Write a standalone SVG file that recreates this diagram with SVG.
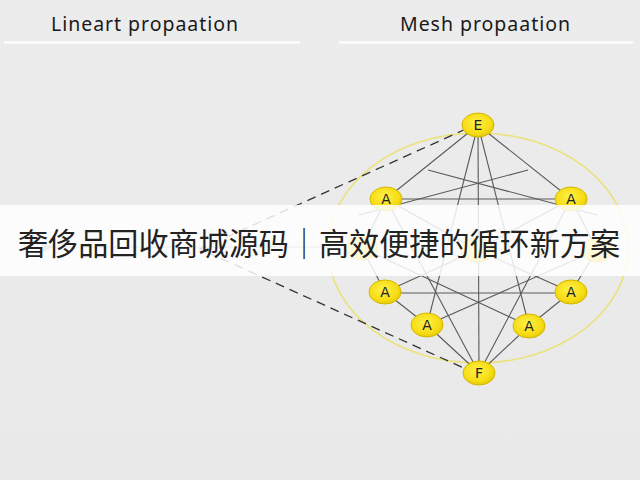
<svg xmlns="http://www.w3.org/2000/svg" width="640" height="480" viewBox="0 0 640 480">
<defs>
<linearGradient id="bg" x1="0" y1="0" x2="0" y2="1">
<stop offset="0" stop-color="#ececec"/>
<stop offset="1" stop-color="#e9e9e9"/>
</linearGradient>
<radialGradient id="ng" cx="0.45" cy="0.4" r="0.65">
<stop offset="0" stop-color="#fff04a"/>
<stop offset="0.7" stop-color="#f6dc12"/>
<stop offset="1" stop-color="#e2c400"/>
</radialGradient>
<marker id="arr" viewBox="0 0 10 10" refX="1" refY="5" markerWidth="9" markerHeight="9" orient="auto-start-reverse">
<path d="M10,0 L0,5 L10,10 z" fill="#888"/>
</marker>
<style>
.hdr{font-family:"Noto Sans","Open Sans","Liberation Sans",sans-serif;font-size:19.5px;fill:#1a1a1a}
.rule{stroke:#ffffff;stroke-width:2}
.edge{stroke:#5a5a5a;stroke-width:1.1;fill:none}
.dash{stroke:#333;stroke-width:1.3;stroke-dasharray:9 6;fill:none}
.node{fill:url(#ng);stroke:#d4b600;stroke-width:1}
.lbl{font-family:"DejaVu Sans","Liberation Sans",sans-serif;font-size:14px;fill:#222;text-anchor:middle}
</style>
</defs>
<rect width="640" height="480" fill="url(#bg)"/>

<text class="hdr" x="51" y="31" textLength="187">Lineart propaation</text>
<line class="rule" x1="4" y1="42.5" x2="300" y2="42.5"/>
<text class="hdr" x="400" y="31" textLength="170">Mesh propaation</text>
<line class="rule" x1="339" y1="42.5" x2="633" y2="42.5"/>

<ellipse cx="478" cy="248" rx="150" ry="115" fill="none" stroke="#ebe27c" stroke-width="1.6"/>

<g id="connectors">
<line x1="330" y1="247" x2="52" y2="247" stroke="#888" stroke-width="1.2" marker-end="url(#arr)"/>
<polyline class="dash" points="466,129 200,249 466,369"/>
<line class="edge" x1="478" y1="125" x2="386" y2="199"/>
<line class="edge" x1="478" y1="125" x2="571" y2="199"/>
<line class="edge" x1="478" y1="125" x2="479" y2="373"/>
<line class="edge" x1="478" y1="125" x2="427" y2="325"/>
<line class="edge" x1="478" y1="125" x2="529" y2="326"/>
<line class="edge" x1="386" y1="199" x2="571" y2="199"/>
<line class="edge" x1="385" y1="293" x2="571" y2="293"/>
<line class="edge" x1="386" y1="199" x2="362" y2="248"/>
<line class="edge" x1="362" y1="248" x2="385" y2="292"/>
<line class="edge" x1="571" y1="199" x2="597" y2="250"/>
<line class="edge" x1="597" y1="250" x2="571" y2="292"/>
<line class="edge" x1="385" y1="292" x2="427" y2="325"/>
<line class="edge" x1="427" y1="325" x2="479" y2="373"/>
<line class="edge" x1="571" y1="292" x2="529" y2="326"/>
<line class="edge" x1="529" y1="326" x2="479" y2="373"/>
<line class="edge" x1="479" y1="373" x2="386" y2="199"/>
<line class="edge" x1="479" y1="373" x2="571" y2="199"/>
<line class="edge" x1="428" y1="170" x2="597" y2="215"/>
<line class="edge" x1="528" y1="170" x2="359" y2="215"/>
<line class="edge" x1="362" y1="248" x2="529" y2="326"/>
<line class="edge" x1="597" y1="250" x2="427" y2="325"/>
<line class="edge" x1="386" y1="199" x2="477" y2="250"/>
<line class="edge" x1="571" y1="199" x2="477" y2="250"/>
<line class="edge" x1="477" y1="250" x2="385" y2="292"/>
<line class="edge" x1="477" y1="250" x2="571" y2="292"/>
</g>

<g id="node-top"><ellipse class="node" cx="478" cy="125" rx="16" ry="12"/><text class="lbl" x="478" y="130">E</text></g>
<g id="node-a1"><ellipse class="node" cx="386" cy="199" rx="16" ry="12"/><text class="lbl" x="386" y="204">A</text></g>
<g id="node-a2"><ellipse class="node" cx="571" cy="199" rx="16" ry="12"/><text class="lbl" x="571" y="204">A</text></g>
<g id="node-h1"><ellipse class="node" cx="362" cy="248" rx="16" ry="12"/></g>
<g id="node-h2"><ellipse class="node" cx="477" cy="250" rx="16" ry="12"/></g>
<g id="node-h3"><ellipse class="node" cx="597" cy="250" rx="16" ry="12"/></g>
<g id="node-a3"><ellipse class="node" cx="385" cy="292" rx="16" ry="12"/><text class="lbl" x="385" y="297">A</text></g>
<g id="node-a4"><ellipse class="node" cx="571" cy="292" rx="16" ry="12"/><text class="lbl" x="571" y="297">A</text></g>
<g id="node-a5"><ellipse class="node" cx="427" cy="325" rx="16" ry="12"/><text class="lbl" x="427" y="330">A</text></g>
<g id="node-a6"><ellipse class="node" cx="529" cy="326" rx="16" ry="12"/><text class="lbl" x="529" y="331">A</text></g>
<g id="node-bottom"><ellipse class="node" cx="479" cy="373" rx="16" ry="12"/><text class="lbl" x="479" y="378">F</text></g>

<rect x="0" y="205" width="640" height="71" fill="#ffffff" fill-opacity="0.84"/>
<text x="319" y="255" font-family="'Noto Sans CJK SC','Noto Sans CJK JP',sans-serif" font-size="31" fill="#222" text-anchor="middle" textLength="602" lengthAdjust="spacingAndGlyphs">奢侈品回收商城源码｜高效便捷的循环新方案</text>
</svg>
